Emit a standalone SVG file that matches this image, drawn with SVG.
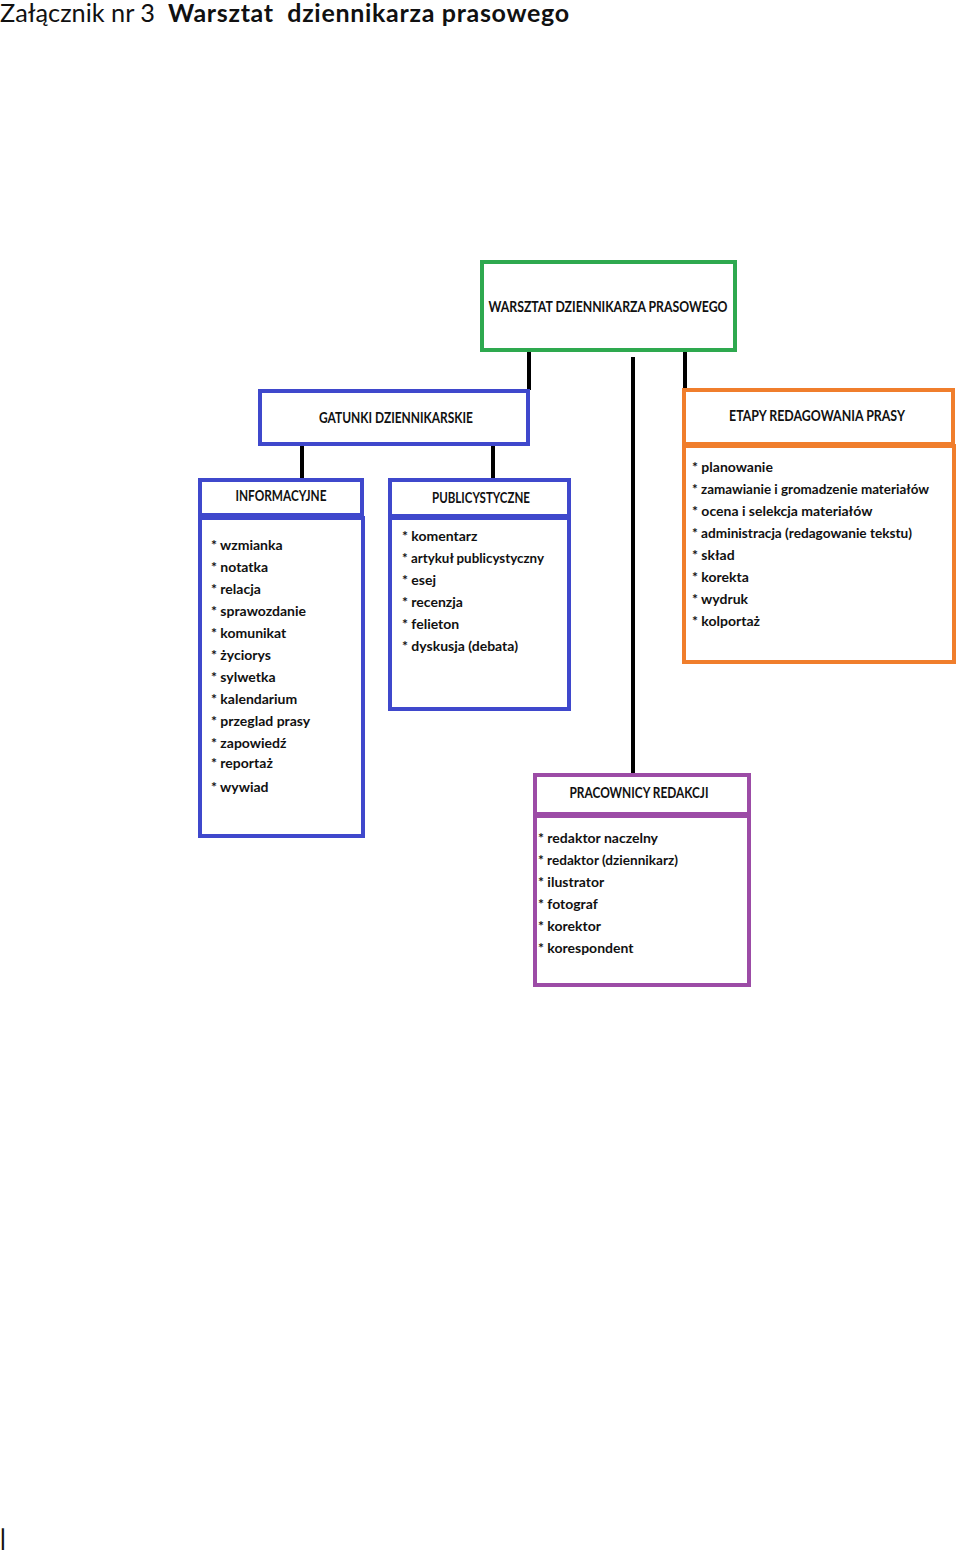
<svg xmlns="http://www.w3.org/2000/svg" width="960" height="1550" viewBox="0 0 960 1550">
<style>
.t{font-family:Lato,"Noto Sans","DejaVu Sans",sans-serif;fill:#111}
.h{font-size:14.5px;font-weight:bold;text-anchor:middle}
.i{font-size:14px;font-weight:bold}
.box{fill:#fff;stroke-width:4}
.g{stroke:#2ea94f}
.b{stroke:#3f48cc}
.o{stroke:#f07e2c}
.p{stroke:#9c4ca6}
.c{stroke:#000;stroke-width:4;fill:none}
</style>
<rect width="960" height="1550" fill="#fff"/>
<text class="t" x="0" y="22" font-size="25" textLength="155" lengthAdjust="spacingAndGlyphs">Załącznik nr 3</text>
<text class="t" x="168" y="22" font-size="25" font-weight="bold" textLength="401" lengthAdjust="spacing" xml:space="preserve">Warsztat  dziennikarza prasowego</text>
<g id="connectors">
<line class="c" x1="529" y1="351" x2="529" y2="390"/>
<line class="c" x1="633" y1="357" x2="633" y2="780"/>
<line class="c" x1="685" y1="351" x2="685" y2="390"/>
<line class="c" x1="302" y1="444" x2="302" y2="480"/>
<line class="c" x1="493" y1="444" x2="493" y2="480"/>
</g>
<g id="warsztat">
<rect class="box g" x="482" y="262" width="253" height="88"/>
<text class="t h" x="608" y="312" textLength="239" lengthAdjust="spacingAndGlyphs">WARSZTAT DZIENNIKARZA PRASOWEGO</text>
</g>
<g id="gatunki">
<rect class="box b" x="260" y="391" width="268" height="53"/>
<text class="t h" x="396" y="423" textLength="154" lengthAdjust="spacingAndGlyphs">GATUNKI DZIENNIKARSKIE</text>
</g>
<g id="informacyjne">
<rect class="box b" x="200" y="480" width="162" height="35"/>
<text class="t h" x="281" y="501" textLength="91" lengthAdjust="spacingAndGlyphs">INFORMACYJNE</text>
<rect class="box b" x="200" y="518" width="163" height="318"/>
<g class="t i">
<text x="211" y="550">* wzmianka</text>
<text x="211" y="572">* notatka</text>
<text x="211" y="594">* relacja</text>
<text x="211" y="616">* sprawozdanie</text>
<text x="211" y="638">* komunikat</text>
<text x="211" y="660">* życiorys</text>
<text x="211" y="682">* sylwetka</text>
<text x="211" y="704">* kalendarium</text>
<text x="211" y="726">* przeglad prasy</text>
<text x="211" y="748">* zapowiedź</text>
<text x="211" y="768">* reportaż</text>
<text x="211" y="792">* wywiad</text>
</g>
</g>
<g id="publicystyczne">
<rect class="box b" x="390" y="480" width="179" height="36"/>
<text class="t h" x="481" y="503" textLength="98" lengthAdjust="spacingAndGlyphs">PUBLICYSTYCZNE</text>
<rect class="box b" x="390" y="518" width="179" height="191"/>
<g class="t i">
<text x="402" y="541">* komentarz</text>
<text x="402" y="563" textLength="142" lengthAdjust="spacingAndGlyphs">* artykuł publicystyczny</text>
<text x="402" y="585">* esej</text>
<text x="402" y="607">* recenzja</text>
<text x="402" y="629">* felieton</text>
<text x="402" y="651">* dyskusja (debata)</text>
</g>
</g>
<g id="etapy">
<rect class="box o" x="684" y="390" width="269" height="54"/>
<text class="t h" x="817" y="421" textLength="176" lengthAdjust="spacingAndGlyphs">ETAPY REDAGOWANIA PRASY</text>
<rect class="box o" x="684" y="446" width="270" height="216"/>
<g class="t i">
<text x="692" y="472">* planowanie</text>
<text x="692" y="494" textLength="237" lengthAdjust="spacingAndGlyphs">* zamawianie i gromadzenie materiałów</text>
<text x="692" y="516">* ocena i selekcja materiałów</text>
<text x="692" y="538" textLength="220" lengthAdjust="spacingAndGlyphs">* administracja (redagowanie tekstu)</text>
<text x="692" y="560">* skład</text>
<text x="692" y="582">* korekta</text>
<text x="692" y="604">* wydruk</text>
<text x="692" y="626">* kolportaż</text>
</g>
</g>
<g id="pracownicy">
<rect class="box p" x="535" y="775" width="214" height="39"/>
<text class="t h" x="639" y="798" textLength="139" lengthAdjust="spacingAndGlyphs">PRACOWNICY REDAKCJI</text>
<rect class="box p" x="535" y="816" width="214" height="169"/>
<g class="t i">
<text x="538" y="843">* redaktor naczelny</text>
<text x="538" y="865" textLength="140" lengthAdjust="spacingAndGlyphs">* redaktor (dziennikarz)</text>
<text x="538" y="887">* ilustrator</text>
<text x="538" y="909">* fotograf</text>
<text x="538" y="931">* korektor</text>
<text x="538" y="953">* korespondent</text>
</g>
</g>
<text class="t" x="0" y="1546" font-size="22" font-weight="bold">|</text>
</svg>
